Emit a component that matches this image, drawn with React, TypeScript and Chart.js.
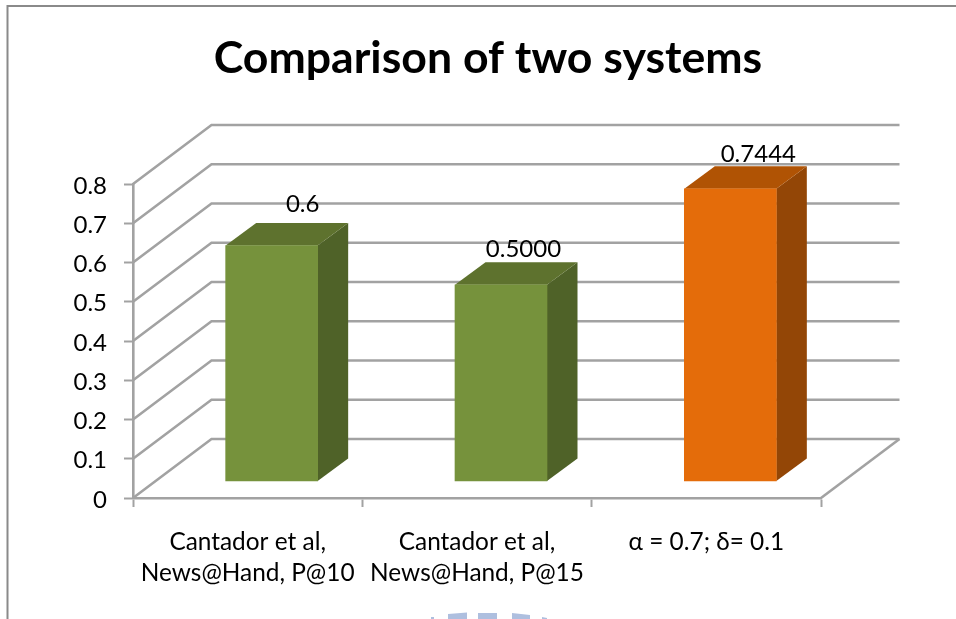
import React, { useEffect, useRef } from "react";
import { Chart, registerables } from "chart.js";

Chart.register(...registerables);

const categories = [
  ["Cantador et al,", "News@Hand, P@10"],
  ["Cantador et al,", "News@Hand, P@15"],
  ["α = 0.7; δ= 0.1"],
];
const values = [0.6, 0.5, 0.7444];
const valueLabels = ["0.6", "0.5000", "0.7444"];
const frontColors = ["#76923c", "#76923c", "#e46c0a"];
const topColors = ["#5e722e", "#5e722e", "#b05304"];
const sideColors = ["#4f6228", "#4f6228", "#934606"];
const labelOffsets = [
  [31, -41],
  [22.5, -36],
  [28, -35],
];
// Top of the seal printed behind the page, cut off by the lower edge.
const sealSegments = [
  [431, 617, 434, 617],
  [448, 614, 467, 612.5],
  [478, 613, 497, 613],
  [512, 613, 530, 615],
  [542, 617, 547, 618],
];

const FONT = "Lato, Carlito, Calibri, sans-serif";
const GRID = "#a2a2a2";
const WALL_DX = 78.5;
const WALL_DY = -59;
const BAR_SHIFT = 24;
const BAR_DX = 30.5;
const BAR_DY = -22.5;

// Draws the sheet outline, the receding floor and wall lines, and the bar sides.
const depthPlugin = {
  id: "depth",
  beforeDraw(chart: any) {
    const { ctx } = chart;
    ctx.save();
    ctx.strokeStyle = "#8a8a8a";
    ctx.lineWidth = 2;
    ctx.beginPath();
    ctx.moveTo(7.5, chart.height);
    ctx.lineTo(7.5, 6);
    ctx.lineTo(chart.width, 6);
    ctx.stroke();
    ctx.fillStyle = "#aebfdf";
    sealSegments.forEach(([x0, y0, x1, y1]) => {
      ctx.beginPath();
      ctx.moveTo(x0, y0);
      ctx.lineTo(x1, y1);
      ctx.lineTo(x1, chart.height);
      ctx.lineTo(x0, chart.height);
      ctx.closePath();
      ctx.fill();
    });
    ctx.restore();
  },
  beforeDatasetsDraw(chart: any) {
    const { ctx, chartArea: a, scales } = chart;
    const y = scales.y;
    ctx.save();
    ctx.strokeStyle = GRID;
    ctx.lineWidth = 2.6;
    y.ticks.forEach((t: any) => {
      const py = y.getPixelForValue(t.value);
      ctx.beginPath();
      ctx.moveTo(a.left, py);
      ctx.lineTo(a.left + WALL_DX, py + WALL_DY);
      ctx.lineTo(a.right + WALL_DX, py + WALL_DY);
      ctx.stroke();
    });
    ctx.beginPath();
    ctx.moveTo(a.right + WALL_DX, a.bottom + WALL_DY);
    ctx.lineTo(a.right, a.bottom);
    ctx.stroke();
    ctx.restore();

    ctx.save();
    ctx.translate(BAR_SHIFT, 0);
    chart.getDatasetMeta(0).data.forEach((bar: any, i: number) => {
      const l = bar.x - bar.width / 2;
      const r = bar.x + bar.width / 2;
      ctx.fillStyle = sideColors[i];
      ctx.beginPath();
      ctx.moveTo(r, bar.y);
      ctx.lineTo(r + BAR_DX, bar.y + BAR_DY);
      ctx.lineTo(r + BAR_DX, bar.base + BAR_DY);
      ctx.lineTo(r, bar.base);
      ctx.closePath();
      ctx.fill();
      ctx.fillStyle = topColors[i];
      ctx.beginPath();
      ctx.moveTo(l, bar.y);
      ctx.lineTo(l + BAR_DX, bar.y + BAR_DY);
      ctx.lineTo(r + BAR_DX, bar.y + BAR_DY);
      ctx.lineTo(r, bar.y);
      ctx.closePath();
      ctx.fill();
    });
  },
  afterDatasetsDraw(chart: any) {
    const { ctx } = chart;
    ctx.restore();
    ctx.save();
    ctx.fillStyle = "#000";
    ctx.font = `24px ${FONT}`;
    ctx.textAlign = "center";
    ctx.textBaseline = "middle";
    chart.getDatasetMeta(0).data.forEach((bar: any, i: number) => {
      ctx.fillText(
        valueLabels[i],
        bar.x + BAR_SHIFT + labelOffsets[i][0],
        bar.y + labelOffsets[i][1]
      );
    });
    ctx.restore();
  },
};

export default function App() {
  const ref = useRef<HTMLCanvasElement>(null);
  useEffect(() => {
    document.body.style.margin = "0";
    const chart = new Chart(ref.current!, {
      type: "bar",
      data: {
        labels: categories,
        datasets: [
          {
            data: values,
            yAxisID: "depth",
            backgroundColor: frontColors,
            borderWidth: 0,
            barThickness: 92,
          },
        ],
      },
      plugins: [depthPlugin],
      options: {
        responsive: false,
        animation: false,
        layout: { padding: { left: 20, right: 0, top: 0, bottom: 0 } },
        plugins: {
          legend: { display: false },
          tooltip: { enabled: false },
          title: {
            display: true,
            text: "Comparison of two systems",
            color: "#000",
            font: { family: FONT, size: 44.6, weight: "bold" },
            padding: { top: 32, bottom: 98.5 },
          },
        },
        scales: {
          x: {
            grid: {
              offset: true,
              drawOnChartArea: false,
              tickColor: GRID,
              tickLength: 9,
              tickWidth: 2,
            },
            border: { color: GRID, width: 2.6 },
            ticks: {
              color: "#000",
              font: { family: FONT, size: 24.4, lineHeight: 1.3 },
              padding: 19,
              maxRotation: 0,
              autoSkip: false,
            },
            afterFit(s: any) {
              s.height = 121;
            },
          },
          y: {
            min: 0,
            max: 0.8,
            grid: {
              drawOnChartArea: false,
              tickColor: GRID,
              tickLength: 9,
              tickWidth: 2,
            },
            border: { color: GRID, width: 2.6 },
            ticks: {
              stepSize: 0.1,
              color: "#000",
              font: { family: FONT, size: 24 },
              padding: 17,
              labelOffset: 2,
              callback: (v: any) => (Number(v) === 0 ? "0" : Number(v).toFixed(1)),
            },
            afterFit(s: any) {
              s.width = 113;
            },
          },
          // Bars sit forward of the back wall, so their baseline is raised on this scale.
          depth: {
            position: "right",
            min: -0.0433,
            max: 0.7567,
            grid: { display: false },
            border: { display: false },
            ticks: { display: false },
            afterFit(s: any) {
              s.width = 135;
            },
          },
        },
      },
    } as any);
    return () => chart.destroy();
  }, []);
  return <canvas ref={ref} width={956} height={619} style={{ display: "block" }} />;
}
